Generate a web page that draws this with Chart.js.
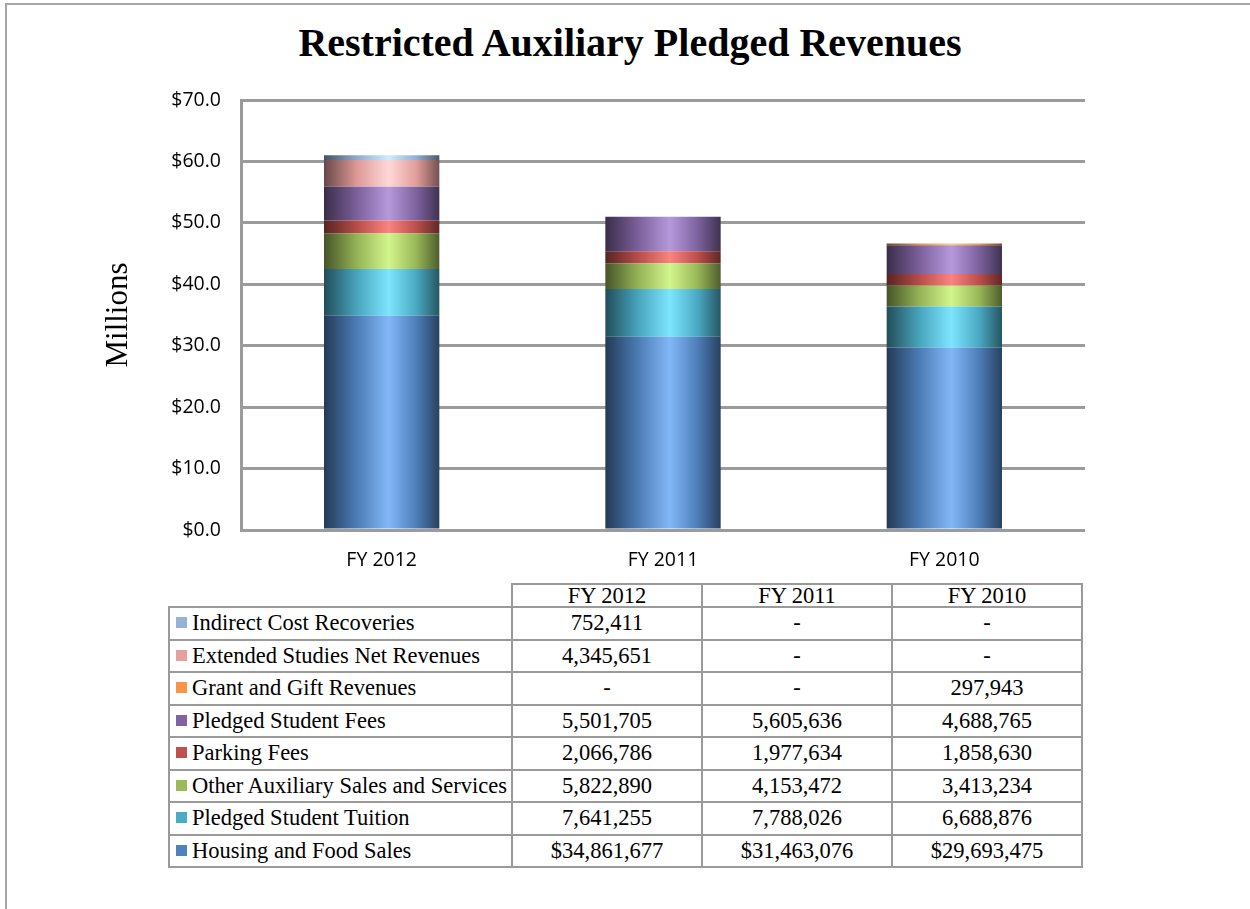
<!DOCTYPE html>
<html>
<head>
<meta charset="utf-8">
<script src="https://cdn.jsdelivr.net/npm/chart.js@4.4.0/dist/chart.umd.min.js"></script>
<style>
  body { margin: 0; background: #fff; width: 1250px; height: 909px; overflow: hidden; position: relative; }
  #frame { position: absolute; left: 5px; top: 3px; width: 1260px; height: 920px; border-top: 2px solid #a6a6a6; border-left: 2px solid #a6a6a6; }
  #title { position: absolute; left: 0; width: 1260px; top: 19px; text-align: center; font: bold 40px "Liberation Serif", serif; color: #000; }
  #revChart { position: absolute; left: 0; top: 0; }
  #dataTable { position: absolute; left: 168px; top: 583px; border-collapse: collapse; font: 22.5px "Liberation Serif", serif; color: #000; }
  #dataTable td, #dataTable th { border: 2px solid #9a9a9a; padding: 0; font-weight: normal; }
  #dataTable th { height: 21px; line-height: 21px; text-align: center; }
  #dataTable td { height: 30.5px; line-height: 30px; text-align: center; }
  #dataTable th.blank { border-top: none; border-left: none; }
  #dataTable td.name { text-align: left; padding-left: 6px; white-space: nowrap; }
  .key { display: inline-block; width: 11px; height: 11px; margin-right: 5px; vertical-align: 2px; }
</style>
</head>
<body>
<div id="frame"></div>
<div id="title">Restricted Auxiliary Pledged Revenues</div>
<canvas id="revChart" width="1250" height="580"></canvas>
<table id="dataTable"></table>
<script>
const categories = ['FY 2012', 'FY 2011', 'FY 2010'];

// dollars, stack order bottom -> top
const housingFood = [34861677, 31463076, 29693475];
const studentTuition = [7641255, 7788026, 6688876];
const otherAuxiliary = [5822890, 4153472, 3413234];
const parkingFees = [2066786, 1977634, 1858630];
const studentFees = [5501705, 5605636, 4688765];
const grantGift = [0, 0, 297943];
const extendedStudies = [4345651, 0, 0];
const indirectCost = [752411, 0, 0];

const series = [
    { name: 'Housing and Food Sales', values: housingFood, color: '#4F81BD', prefix: '$' },
    { name: 'Pledged Student Tuition', values: studentTuition, color: '#4BACC6' },
    { name: 'Other Auxiliary Sales and Services', values: otherAuxiliary, color: '#9BBB59' },
    { name: 'Parking Fees', values: parkingFees, color: '#C0504D' },
    { name: 'Pledged Student Fees', values: studentFees, color: '#8064A2' },
    { name: 'Grant and Gift Revenues', values: grantGift, color: '#F79646' },
    { name: 'Extended Studies Net Revenues', values: extendedStudies, color: '#E6A09E' },
    { name: 'Indirect Cost Recoveries', values: indirectCost, color: '#95B3D7' }
];

const BAR_PCT = 0.41;

function rgbOf(hex) {
    const n = parseInt(hex.slice(1), 16);
    return [n >> 16, (n >> 8) & 255, n & 255];
}

function darken(hex, p) {
    const c = rgbOf(hex).map(v => Math.round(v * (1 - p)));
    return `rgb(${c[0]}, ${c[1]}, ${c[2]})`;
}

function brighten(hex, mult, white) {
    const c = rgbOf(hex).map(v => Math.min(255, v * mult)).map(v => Math.round(v + (255 - v) * white));
    return `rgb(${c[0]}, ${c[1]}, ${c[2]})`;
}

// horizontal gradient to give the bars the rounded "cylinder" look
function cylinder(base) {
    return (ctx) => {
        const chart = ctx.chart;
        const area = chart.chartArea;
        if (!area || ctx.type !== 'data') return base;
        const cx = chart.scales.x.getPixelForValue(ctx.dataIndex);
        const w = (area.right - area.left) / categories.length * BAR_PCT;
        const grad = chart.ctx.createLinearGradient(cx - w / 2, 0, cx + w / 2, 0);
        grad.addColorStop(0, darken(base, 0.55));
        grad.addColorStop(0.28, darken(base, 0.05));
        grad.addColorStop(0.56, brighten(base, 1.3, 0.18));
        grad.addColorStop(0.8, darken(base, 0.02));
        grad.addColorStop(1, darken(base, 0.5));
        return grad;
    };
}

new Chart(document.getElementById('revChart'), {
    type: 'bar',
    data: {
        labels: categories,
        datasets: series.map(s => ({
            label: s.name,
            data: s.values.map(v => v / 1e6),
            backgroundColor: cylinder(s.color),
            borderWidth: 0,
            barPercentage: BAR_PCT,
            categoryPercentage: 1
        }))
    },
    options: {
        responsive: false,
        animation: false,
        layout: { padding: { left: 100, right: 165, top: 100, bottom: 0 } },
        plugins: {
            legend: { display: false },
            tooltip: { enabled: false }
        },
        scales: {
            x: {
                stacked: true,
                grid: { display: false, drawTicks: false },
                border: { display: false },
                ticks: { color: '#000', padding: 19, font: { family: 'Open Sans', size: 19.5 } },
                afterFit: (scale) => { scale.height = 50; }
            },
            y: {
                stacked: true,
                min: 0,
                max: 70,
                grid: { color: '#9b9b9b', lineWidth: 3, drawTicks: false },
                border: { color: '#9b9b9b', width: 3 },
                ticks: {
                    stepSize: 10,
                    color: '#000',
                    padding: 20,
                    font: { family: 'Open Sans', size: 19.5 },
                    callback: (v) => '$' + v.toFixed(1)
                },
                title: {
                    display: true,
                    text: 'Millions',
                    color: '#000',
                    padding: { top: 0, bottom: 4 },
                    font: { family: 'Liberation Serif', size: 31 }
                },
                afterFit: (scale) => { scale.width = 141; }
            }
        }
    }
});

// data table under the chart, rows listed top -> bottom
const table = document.getElementById('dataTable');
let html = '<tr><th class="blank" style="width:342px"></th>' +
    categories.map(c => `<th style="width:188px">${c}</th>`).join('') + '</tr>';
series.slice().reverse().forEach(s => {
    html += `<tr><td class="name"><span class="key" style="background:${s.color}"></span>${s.name}</td>`;
    s.values.forEach(v => {
        html += `<td>${v ? (s.prefix || '') + v.toLocaleString('en-US') : '-'}</td>`;
    });
    html += '</tr>';
});
table.innerHTML = html;
</script>
</body>
</html>
